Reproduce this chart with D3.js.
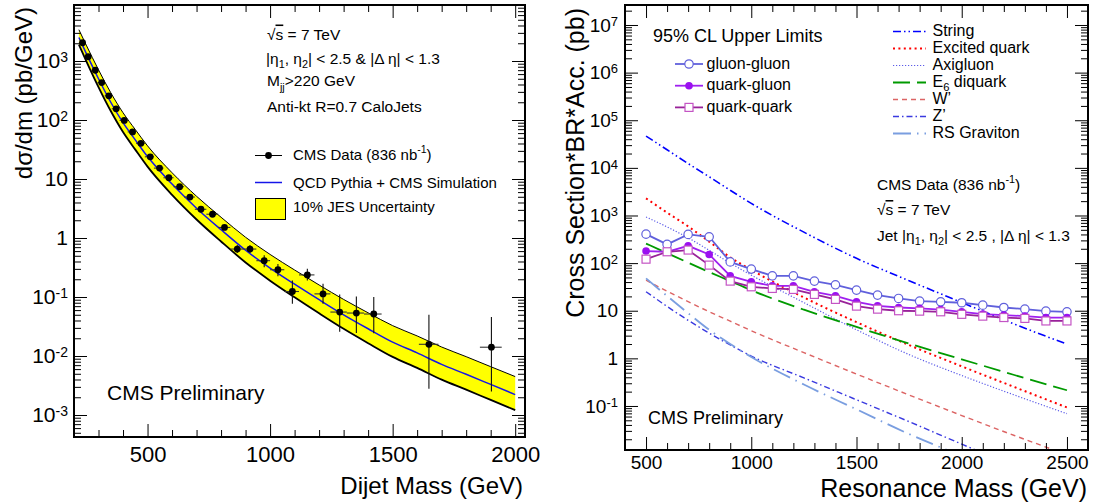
<!DOCTYPE html>
<html>
<head>
<meta charset="utf-8">
<script src="https://cdn.jsdelivr.net/npm/d3@7"></script>
<style>
  body { margin: 0; background: #fff; }
  svg { font-family: "Liberation Sans", Arial, Helvetica, sans-serif; }
</style>
</head>
<body>
<svg id="chart" width="1106" height="504"></svg>
<script>
// ---- left panel: measured dijet mass spectrum ----
const dataMass = [235, 258, 287, 313, 342, 372, 405, 439, 473, 511, 549, 587, 631, 673, 718, 765, 814, 866, 918, 976, 1032, 1091, 1152, 1216, 1284, 1352, 1423, 1648, 1903];
const dataXsec = [2040, 1180, 697, 431, 257, 155, 98.5, 62.8, 40.3, 23.8, 15.3, 10.5, 7.4, 4.95, 3.07, 2.53, 1.51, 0.65, 0.65, 0.413, 0.29, 0.124, 0.237, 0.113, 0.0556, 0.0535, 0.0515, 0.0158, 0.0141];
const dataErrLo = [1980, 1145, 676, 418, 249, 150, 95.5, 60.9, 39.1, 23.0, 14.7, 10.1, 7.1, 4.7, 2.88, 2.35, 1.37, 0.555, 0.555, 0.32, 0.224, 0.077, 0.19, 0.077, 0.0257, 0.0246, 0.0242, 0.0028, 0.0025];
const dataErrHi = [2100, 1215, 718, 444, 265, 160, 101.5, 64.7, 41.5, 24.6, 15.9, 10.9, 7.7, 5.2, 3.26, 2.71, 1.65, 0.76, 0.76, 0.51, 0.363, 0.19, 0.30, 0.167, 0.11, 0.102, 0.1, 0.050, 0.046];
const binLo = [220, 244, 270, 296, 325, 354, 386, 419, 453, 489, 526, 565, 606, 649, 693, 740, 788, 838, 890, 944, 1000, 1058, 1118, 1181, 1246, 1313, 1383, 1607, 1856];
const binHi = [244, 270, 296, 325, 354, 386, 419, 453, 489, 526, 565, 606, 649, 693, 740, 788, 838, 890, 944, 1000, 1058, 1118, 1181, 1246, 1313, 1383, 1455, 1687, 1945];

// QCD prediction and 10% JES band
const qcdMass = [220, 250, 300, 350, 400, 450, 500, 600, 700, 800, 900, 1000, 1100, 1200, 1300, 1400, 1500, 1600, 1700, 1800, 1900, 2000];
const qcdXsec = [2500, 1350, 500, 200, 90, 46, 24, 8.2, 3.2, 1.38, 0.62, 0.31, 0.165, 0.09, 0.05, 0.029, 0.0172, 0.0113, 0.0072, 0.0049, 0.0033, 0.00222];
const jesUp = [3400, 1860, 710, 290, 133, 69, 36.5, 12.8, 5.1, 2.25, 1.03, 0.527, 0.287, 0.16, 0.091, 0.054, 0.0327, 0.0219, 0.0142, 0.00975, 0.0066, 0.00448];
const jesDown = [1890, 1000, 362, 142, 62.5, 31.5, 16.2, 5.39, 2.06, 0.873, 0.385, 0.189, 0.0988, 0.0529, 0.0289, 0.0165, 0.00966, 0.00628, 0.00398, 0.00269, 0.0018, 0.00121];

// ---- right panel: 95% CL limits ----
const resMass = [500, 600, 700, 800, 900, 1000, 1100, 1200, 1300, 1400, 1500, 1600, 1700, 1800, 1900, 2000, 2100, 2200, 2300, 2400, 2500];
const limitGG = [406, 247, 401, 357, 106, 74.8, 54, 54, 41.9, 35, 27.1, 21.3, 18.1, 15.9, 15.4, 14.7, 13.1, 11.7, 10.8, 9.8, 9.5];
const limitQG = [179, 173, 231, 152, 54, 40.5, 33.3, 33.3, 24.9, 20.6, 15.4, 12.7, 11.7, 11.2, 10.6, 9.5, 8.5, 8.1, 7.7, 7.2, 7.2];
const limitQQ = [121, 173, 188, 90.8, 41.9, 31.8, 29.4, 28, 22, 17.3, 12.5, 10.8, 10, 9.8, 9.5, 8.4, 7.7, 7.2, 6.9, 6.1, 6.1];

// model predictions
const theoryMass = [500, 600, 700, 800, 900, 1000, 1250, 1500, 1750, 2000, 2250, 2500];
const thString = [46500, 24000, 12300, 6500, 3390, 1795, 447, 126, 42.7, 14.9, 5.25, 1.99];
const thExcited = [2290, 1150, 590, 282, 132, 72, 19, 5.75, 1.9, 0.68, 0.25, 0.093];
const thAxigluon = [933, 575, 339, 186, 100, 56, 14.8, 3.98, 1.2, 0.436, 0.17, 0.069];
const thE6 = [257, 162, 102, 65, 42, 27, 10.5, 4.57, 2.04, 0.955, 0.447, 0.214];
const thWprime = [43.7, 25.7, 15.5, 9.55, 6.03, 3.8, 1.32, 0.468, 0.17, 0.063, 0.024, 0.0095];
const thZprime = [25.1, 12.3, 6.3, 3.39, 1.91, 1.12, 0.389, 0.135, 0.0468, 0.0158, 0.0054, 0.0018];
const thRSG = [47.9, 20.4, 8.9, 3.98, 2.0, 1.07, 0.282, 0.0851, 0.0257, 0.0089, 0.00316, 0.00112];

// tick labels
const leftMajorX = [500, 1000, 1500, 2000];
const rightMajorX = [500, 1000, 1500, 2000, 2500];

const svg = d3.select("#chart");

const L = {left: 74, top: 5, right: 525, bottom: 437};
const R = {left: 625, top: 5, right: 1088, bottom: 450};

const xL = d3.scaleLinear().domain([200, 2040]).range([L.left, L.right]);
const yL = d3.scaleLog().domain([4.24e-4, 8.9e3]).range([L.bottom, L.top]);
const xR = d3.scaleLinear().domain([400, 2600]).range([R.left, R.right]);
const yR = d3.scaleLog().domain([0.0119, 2.63e7]).range([R.bottom, R.top]);

function isDecade(d) {
    const e = Math.log10(d);
    return Math.abs(e - Math.round(e)) < 1e-6;
}

// writes 1, 10, 10^n into an axis label
function powLabel(text, d, supSize) {
    const e = Math.round(Math.log10(d));
    text.text(null);
    if (e === 0) { text.text("1"); return; }
    text.append("tspan").text("10");
    if (e !== 1) text.append("tspan").attr("dy", "-0.45em").attr("font-size", supSize).text(e);
}

// text with sub / superscripts, parts = ["plain", ["1","sub"], ...]
function richText(parent, x, y, size, parts, subShift) {
    const t = parent.append("text")
        .attr("x", x).attr("y", y)
        .attr("font-size", size);
    const sub = subShift == null ? 0.3 : subShift;
    let shift = 0;
    for (const p of parts) {
        const [str, kind] = Array.isArray(p) ? p : [p, null];
        const target = kind === "sub" ? size * sub : kind === "sup" ? -size * 0.42 : 0;
        const ts = t.append("tspan").attr("dy", target - shift).text(str);
        if (kind === "sub" || kind === "sup") ts.attr("font-size", size * 0.7);
        if (kind === "ol") ts.attr("text-decoration", "overline");
        shift = target;
    }
    return t;
}

function tickSet(g, axis, values, size, pos, fmt, pad, fs) {
    const sel = g.append("g")
        .attr("transform", pos)
        .call(axis.tickValues(values).tickSizeInner(-size).tickSizeOuter(0)
            .tickPadding(pad || 0).tickFormat(fmt || ""));
    sel.select(".domain").remove();
    sel.attr("font-family", null).attr("font-size", fs || 10);
    sel.selectAll(".tick line").attr("stroke", "#000").attr("stroke-width", 1);
    return sel;
}

// ticks on all four sides, ROOT style
function drawAxes(g, x, y, box, xMajor, xPad, yPad, xFs, yFs, supFs) {
    const xMinor = d3.range(x.domain()[0] + 100, x.domain()[1], 100).filter(v => !xMajor.includes(v));
    const yAll = y.ticks();
    const yMajor = yAll.filter(isDecade);
    const yMinor = yAll.filter(d => !isDecade(d));

    tickSet(g, d3.axisBottom(x), xMinor, 7, `translate(0,${box.bottom})`);
    tickSet(g, d3.axisBottom(x), xMajor, 13, `translate(0,${box.bottom})`, d => d, xPad, xFs);
    tickSet(g, d3.axisTop(x), xMinor, 7, `translate(0,${box.top})`);
    tickSet(g, d3.axisTop(x), xMajor, 13, `translate(0,${box.top})`);

    tickSet(g, d3.axisLeft(y), yMinor, 7, `translate(${box.left},0)`);
    tickSet(g, d3.axisLeft(y), yMajor, 13, `translate(${box.left},0)`, d => d, yPad, yFs)
        .selectAll(".tick text").each(function (d) { powLabel(d3.select(this), d, supFs); });
    tickSet(g, d3.axisRight(y), yMinor, 7, `translate(${box.right},0)`);
    tickSet(g, d3.axisRight(y), yMajor, 13, `translate(${box.right},0)`);

    g.append("rect")
        .attr("x", box.left).attr("y", box.top)
        .attr("width", box.right - box.left).attr("height", box.bottom - box.top)
        .attr("fill", "none").attr("stroke", "#000").attr("stroke-width", 2);
}

function clipFor(id, box) {
    svg.append("clipPath").attr("id", id)
        .append("rect")
        .attr("x", box.left).attr("y", box.top)
        .attr("width", box.right - box.left).attr("height", box.bottom - box.top);
    return svg.append("g").attr("clip-path", `url(#${id})`);
}

// ================= left panel =================
const plotL = clipFor("clipL", L);

const bandRows = qcdMass.map((m, i) => ({m, c: qcdXsec[i], up: jesUp[i], dn: jesDown[i]}));

plotL.append("path")
    .datum(bandRows)
    .attr("fill", "#ffff00")
    .attr("d", d3.area().curve(d3.curveMonotoneX)
        .x(d => xL(d.m)).y0(d => yL(d.dn)).y1(d => yL(d.up)));

plotL.append("path")
    .datum(bandRows)
    .attr("fill", "none").attr("stroke", "#000").attr("stroke-width", 1)
    .attr("d", d3.line().curve(d3.curveMonotoneX).x(d => xL(d.m)).y(d => yL(d.up)));

plotL.append("path")
    .datum(bandRows)
    .attr("fill", "none").attr("stroke", "#000").attr("stroke-width", 1.8)
    .attr("d", d3.line().curve(d3.curveMonotoneX).x(d => xL(d.m)).y(d => yL(d.dn)));

plotL.append("path")
    .datum(bandRows)
    .attr("fill", "none").attr("stroke", "#1515e8").attr("stroke-width", 1.5)
    .attr("d", d3.line().curve(d3.curveMonotoneX).x(d => xL(d.m)).y(d => yL(d.c)));

const points = dataMass.map((m, i) => ({
    m, v: dataXsec[i], lo: dataErrLo[i], hi: dataErrHi[i], b0: binLo[i], b1: binHi[i]
}));

const pts = plotL.append("g").selectAll("g").data(points).join("g");
pts.append("line")
    .attr("x1", d => xL(d.m)).attr("x2", d => xL(d.m))
    .attr("y1", d => yL(d.lo)).attr("y2", d => yL(d.hi))
    .attr("stroke", "#111").attr("stroke-width", 1.1);
pts.append("line")
    .attr("x1", d => xL(d.b0)).attr("x2", d => xL(d.b1))
    .attr("y1", d => yL(d.v)).attr("y2", d => yL(d.v))
    .attr("stroke", "#333").attr("stroke-width", 1.1);
pts.append("circle")
    .attr("cx", d => xL(d.m)).attr("cy", d => yL(d.v))
    .attr("r", 3.4).attr("fill", "#000");

const axL = svg.append("g");
drawAxes(axL, xL, yL, L, leftMajorX, 9, 6, 22, 21, 14);

svg.append("text")
    .attr("transform", "translate(32,7) rotate(-90)")
    .attr("text-anchor", "end").attr("font-size", 24)
    .text("dσ/dm (pb/GeV)");
svg.append("text")
    .attr("x", 523).attr("y", 494)
    .attr("text-anchor", "end").attr("font-size", 24)
    .text("Dijet Mass (GeV)");

// header text
richText(svg, 267, 39.5, 15.5, ["√", ["s", "ol"], " = 7 TeV"]);
richText(svg, 266, 63.5, 15.5, ["|η", ["1", "sub"], ", η", ["2", "sub"], "| < 2.5 & |Δ η| < 1.3"]);
richText(svg, 267, 86, 15.5, ["M", ["jj", "sub"], ">220 GeV"]);
richText(svg, 267, 111.5, 15.5, ["Anti-kt R=0.7 CaloJets"]);

// legend
const legL = svg.append("g");
legL.append("line").attr("x1", 255).attr("x2", 282).attr("y1", 155.5).attr("y2", 155.5)
    .attr("stroke", "#000").attr("stroke-width", 1);
legL.append("circle").attr("cx", 268.5).attr("cy", 155.5).attr("r", 3.4).attr("fill", "#000");
richText(legL, 293, 159.5, 15, ["CMS Data (836 nb", ["-1", "sup"], ")"]);
legL.append("line").attr("x1", 255).attr("x2", 282).attr("y1", 182.5).attr("y2", 182.5)
    .attr("stroke", "#1515e8").attr("stroke-width", 1.5);
richText(legL, 293, 187.5, 15, ["QCD Pythia + CMS Simulation"]);
legL.append("rect").attr("x", 255.5).attr("y", 198.5).attr("width", 30).attr("height", 21)
    .attr("fill", "#ffff00").attr("stroke", "#000").attr("stroke-width", 1);
richText(legL, 293, 211.5, 15, ["10% JES Uncertainty"]);

svg.append("text").attr("x", 107).attr("y", 400).attr("font-size", 21).text("CMS Preliminary");

// ================= right panel =================
const plotR = clipFor("clipR", R);

const models = [
    {name: ["String"], vals: thString, color: "#0000ff", dash: "8,3,1.5,3,1.5,3", w: 1.6},
    {name: ["Excited quark"], vals: thExcited, color: "#ff0000", dash: "2,3.4", w: 2},
    {name: ["Axigluon"], vals: thAxigluon, color: "#5c5ce8", dash: "1.2,1.8", w: 1.2},
    {name: ["E", ["6", "sub"], " diquark"], vals: thE6, color: "#009a00", dash: "17,7", w: 1.8},
    {name: ["W’"], vals: thWprime, color: "#dc6464", dash: "5,4", w: 1.4},
    {name: ["Z’"], vals: thZprime, color: "#3a3ae0", dash: "6,3,1.5,3", w: 1.4},
    {name: ["RS Graviton"], vals: thRSG, color: "#7a9ee0", dash: "18,6,1.5,6", w: 1.8}
];

const modelLine = d3.line().curve(d3.curveMonotoneX)
    .x((d, i) => xR(theoryMass[i])).y(d => yR(d));

plotR.append("g").selectAll("path").data(models).join("path")
    .attr("fill", "none")
    .attr("stroke", d => d.color).attr("stroke-width", d => d.w)
    .attr("stroke-dasharray", d => d.dash)
    .attr("d", d => modelLine(d.vals));

const limits = [
    {name: "gluon-gluon", vals: limitGG, line: "#6060dc", mark: "#6060dc", shape: "openCircle"},
    {name: "quark-gluon", vals: limitQG, line: "#a020f0", mark: "#9b10f0", shape: "dot"},
    {name: "quark-quark", vals: limitQQ, line: "#992299", mark: "#c454c4", shape: "square"}
];

const limitLine = d3.line().x((d, i) => xR(resMass[i])).y(d => yR(d));

function drawMarker(g, shape, color, cx, cy) {
    if (shape === "openCircle") {
        g.append("circle").attr("cx", cx).attr("cy", cy).attr("r", 4.2)
            .attr("fill", "#fff").attr("stroke", color).attr("stroke-width", 1.2);
    } else if (shape === "dot") {
        g.append("circle").attr("cx", cx).attr("cy", cy).attr("r", 3.8).attr("fill", color);
    } else {
        g.append("rect").attr("x", cx - 4).attr("y", cy - 4).attr("width", 8).attr("height", 8)
            .attr("fill", "#fff").attr("stroke", color).attr("stroke-width", 1.2);
    }
}

for (const s of limits) {
    const g = plotR.append("g");
    g.append("path")
        .attr("fill", "none").attr("stroke", s.line).attr("stroke-width", 1.8)
        .attr("d", limitLine(s.vals));
    s.vals.forEach((v, i) => drawMarker(g, s.shape, s.mark, xR(resMass[i]), yR(v)));
}

const axR = svg.append("g");
drawAxes(axR, xR, yR, R, rightMajorX, 6, 7, 19, 19, 13);

svg.append("text")
    .attr("transform", "translate(584,8) rotate(-90)")
    .attr("text-anchor", "end").attr("font-size", 25)
    .text("Cross Section*BR*Acc. (pb)");
svg.append("text")
    .attr("x", 1087).attr("y", 497)
    .attr("text-anchor", "end").attr("font-size", 25)
    .text("Resonance Mass (GeV)");

// limits legend
svg.append("text").attr("x", 653).attr("y", 41.5).attr("font-size", 18).text("95% CL Upper Limits");
limits.forEach((s, i) => {
    const ly = 64 + i * 21.7;
    const g = svg.append("g");
    g.append("line").attr("x1", 675).attr("x2", 703).attr("y1", ly).attr("y2", ly)
        .attr("stroke", s.line).attr("stroke-width", 1.8);
    drawMarker(g, s.shape, s.mark, 689, ly);
    g.append("text").attr("x", 706.5).attr("y", ly + 4.5).attr("font-size", 16).text(s.name);
});

// models legend
models.forEach((d, i) => {
    const ly = 31.5 + i * 17;
    svg.append("line").attr("x1", 893).attr("x2", 926).attr("y1", ly).attr("y2", ly)
        .attr("stroke", d.color).attr("stroke-width", d.w).attr("stroke-dasharray", d.dash);
    richText(svg, 932.5, ly + 4.8, 16, d.name, 0.2);
});

richText(svg, 877, 190, 15.5, ["CMS Data (836 nb", ["-1", "sup"], ")"]);
richText(svg, 877, 215, 15.5, ["√", ["s", "ol"], " = 7 TeV"]);
richText(svg, 877, 240.5, 15.5, ["Jet |η", ["1", "sub"], ", η", ["2", "sub"], "| < 2.5 , |Δ η| < 1.3"]);

svg.append("text").attr("x", 648).attr("y", 423.5).attr("font-size", 18).text("CMS Preliminary");
</script>
</body>
</html>
